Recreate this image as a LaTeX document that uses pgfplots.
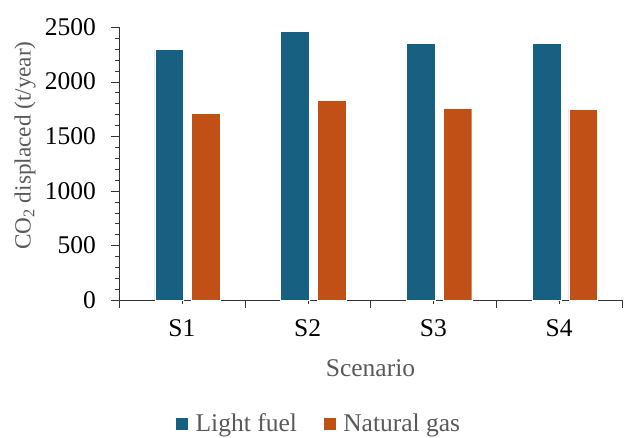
\documentclass[border=0pt]{standalone}
\usepackage{pgfplots}
\pgfplotsset{compat=1.18}
\usepackage{fontspec}
\setmainfont{Liberation Serif}

\definecolor{lightfuel}{RGB}{23,96,129}
\definecolor{natgas}{RGB}{192,80,22}
\definecolor{labelgray}{RGB}{89,89,89}

\begin{document}
\begin{tikzpicture}
\begin{axis}[
    name=ax,
    at={(0,0)}, anchor=south west,
    scale only axis,
    width=503bp, height=273bp,
    font=\fontsize{25.5bp}{30bp}\selectfont,
    ybar,
    bar width=28.7bp,
    ymin=0, ymax=2500,
    ytick={0,500,...,2500},
    minor y tick num=4,
    xmin=-0.5, xmax=3.5,
    xtick={-0.5,0.5,1.5,2.5,3.5},
    xticklabels={},
    extra x ticks={0,1,2,3},
    extra x tick labels={S1,S2,S3,S4},
    extra x tick style={major tick length=4bp},
    xticklabel style={yshift=-12bp},
    yticklabel style={xshift=-12bp},
    axis lines=left,
    axis line style={-, black!80},
    tick align=outside,
    tick style={black!80},
    major tick length=7.5bp,
    minor tick length=4bp,
    /pgf/number format/assume math mode=true,
    /pgf/number format/1000 sep=,
    xlabel={Scenario},
    ylabel={CO\textsubscript{2} displaced (t/year)},
    xlabel style={labelgray, at={(axis description cs:0.5,0)}, anchor=center, yshift=-68bp},
    ylabel style={labelgray, font=\fontsize{23.2bp}{28bp}\selectfont,
        at={(axis description cs:0,0.566)}, anchor=center, yshift=94bp},
    legend columns=2,
    legend style={draw=none, at={(axis description cs:0.397,-0.452)}, anchor=center,
        text=labelgray,
        /tikz/every odd column/.append style={column sep=5bp},
        /tikz/every even column/.append style={column sep=24bp}},
    legend image code/.code={\fill[#1] (0bp,-6.5bp) rectangle (13bp,6.5bp);},
]
\addplot[fill=lightfuel, draw=white, line width=0.4bp, bar shift=-12.7bp]
    coordinates {(0,2296) (1,2458) (2,2350) (3,2350)};
\addplot[fill=natgas, draw=white, line width=0.4bp, bar shift=24bp]
    coordinates {(0,1709) (1,1828) (2,1755) (3,1749)};
\legend{Light fuel, Natural gas}
\end{axis}
\pgfresetboundingbox
\path[use as bounding box] (ax.south west) ++(-119bp,-138bp) rectangle ++(633bp,438bp);
\end{tikzpicture}
\end{document}
